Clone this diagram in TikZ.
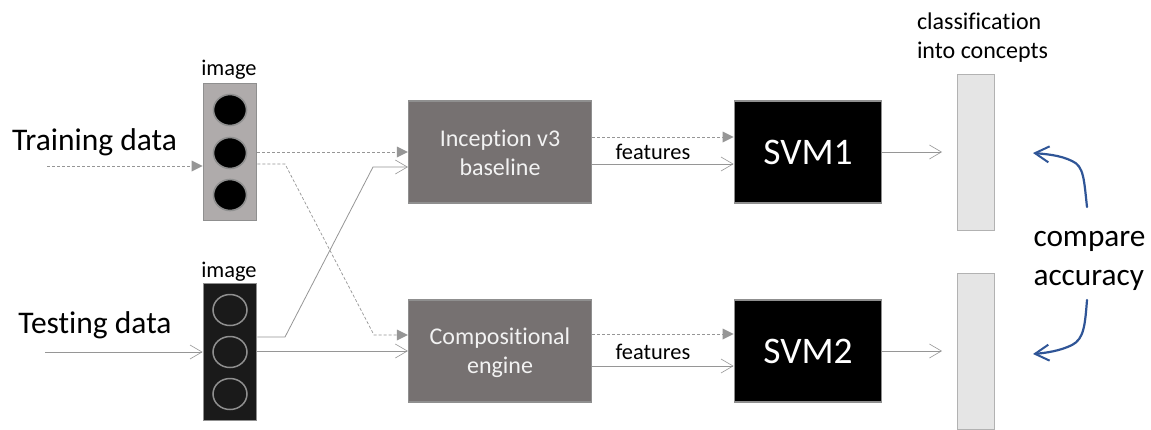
\documentclass[tikz,border=0pt]{standalone}
\usepackage{fontspec}
\setmainfont{Carlito}[RawFeature={-liga;-dlig;-clig}]
\usetikzlibrary{arrows.meta,calc,shapes.geometric}
\definecolor{cline}{HTML}{969696}
\definecolor{cbox}{HTML}{767171}
\definecolor{cedge}{HTML}{8F8F8F}
\definecolor{cimg}{HTML}{AFABAB}
\definecolor{cdark}{HTML}{1A1A1A}
\definecolor{cgrey}{HTML}{E5E5E5}
\definecolor{cblue}{HTML}{2F5597}
\tikzset{
  x=1pt,y=-1pt,
  lbl/.style={inner sep=0pt,text=black,align=left},
  stack/.style={draw=cedge,line width=1.8pt,minimum width=53pt,minimum height=137pt,inner sep=0pt},
  engine/.style={draw=cedge,line width=1.2pt,fill=cbox,minimum width=183pt,minimum height=102pt,inner sep=0pt},
  etext/.style={inner sep=0pt,text=white!95!black,font=\fontsize{24}{28.5}\selectfont,align=center},
  svm/.style={draw=cedge,line width=1.8pt,fill=black,minimum width=147pt,minimum height=102pt,inner sep=0pt,text=white,font=\fontsize{37.5}{40}\selectfont},
  outbar/.style={draw=black!30,line width=0.7pt,fill=cgrey,minimum width=37pt,minimum height=156pt,inner sep=0pt},
  dotA/.style={ellipse,fill=black,draw=cedge,line width=1.6pt,minimum width=33pt,minimum height=31pt,inner sep=0pt},
  dotB/.style={ellipse,draw=cedge,line width=1.5pt,minimum width=34pt,minimum height=31pt,inner sep=0pt},
  dashline/.style={draw=cline,line width=0.7pt,dash pattern=on 3pt off 2pt,-{Triangle[length=11pt,width=11pt,fill=cline,color=cline,line width=0pt]}},
  plainline/.style={draw=cline,line width=0.8pt,-{Straight Barb[length=12pt,width=14pt,line width=0.6pt]}},
  cmp/.style={draw=cblue,line width=2.2pt,line cap=round,-{Straight Barb[length=14pt,width=16pt,line width=2pt]}},
}
\begin{document}
\begin{tikzpicture}
\useasboundingbox[fill=white] (0,0) rectangle (1151,429);
% images
\node[stack,fill=cimg] (imgA) at (230,152) {};
\node[stack,fill=cdark] (imgB) at (230,352) {};
\node[dotA] (a1) at (230,110) {};
\node[dotA] (a2) at (230,153) {};
\node[dotA] (a3) at (230,195) {};
\node[dotB] (b1) at (230,310) {};
\node[dotB] (b2) at (230,352) {};
\node[dotB] (b3) at (230,394) {};
% engines
\node[engine] (inc) at (500,152) {};
\node[engine] (com) at (500,351) {};
\node[etext] (inct) at (500,153) {Inception v3\\baseline};
\node[etext] (comt) at (500,352.5) {Compositional\\engine};
\node[svm] (s1) at (808,152) {SVM1};
\node[svm] (s2) at (808,351) {SVM2};
\node[outbar] (o1) at (975.5,152) {};
\node[outbar,anchor=north] (o2) at (975.5,273) {};
% labels
\node[lbl,font=\fontsize{31.5}{34}\selectfont] (tr) at (94.5,142.5) {Training data};
\node[lbl,font=\fontsize{31.5}{34}\selectfont] (te) at (95,325) {Testing data};
\node[lbl,font=\fontsize{22.4}{26}\selectfont] (i1) at (229,70) {image};
\node[lbl,font=\fontsize{22.4}{26}\selectfont] (i2) at (229,272) {image};
\node[lbl,font=\fontsize{22.4}{26}\selectfont] (f1) at (653,152) {features};
\node[lbl,font=\fontsize{22.4}{26}\selectfont] (f2) at (653,352) {features};
\node[lbl,font=\fontsize{24}{29}\selectfont] (cl) at (982.5,38) {classification\\into concepts};
\node[lbl,font=\fontsize{31.3}{39}\selectfont] (ca) at (1089.5,261) {compare\\accuracy};
% free ends
\coordinate (trs) at (47,166);
\coordinate (tes) at (45,352);
% connectors
\draw[dashline] (trs) -- (imgA.west|-trs);
\draw[plainline] (tes) -- (imgB.west|-tes);
\draw[dashline] (imgA.east|-0,152) -- (inc.west|-0,152);
\draw[dashline] (imgA.east|-0,164) -- (285,164) -- (374,335) -- (com.west|-0,335);
\draw[plainline] (imgB.east|-0,337) -- (285,337) -- (373,167) -- (inc.west|-0,167);
\draw[plainline] (imgB.east|-0,351) -- (com.west|-0,351);
\draw[dashline] (inc.east|-0,137) -- (s1.west|-0,137);
\draw[plainline] (inc.east|-0,164) -- (s1.west|-0,164);
\draw[dashline] (com.east|-0,334) -- (s2.west|-0,334);
\draw[plainline] (com.east|-0,366) -- (s2.west|-0,366);
\draw[plainline] (s1.east|-0,152) -- (942,152);
\draw[plainline] (s2.east|-0,351) -- (942,351);
% compare curves
\coordinate (c1) at (1087,207);
\coordinate (c2) at (1087,300);
\draw[cmp] (c1) .. controls (1084,180) and (1084,166) .. (1072,161) .. controls (1060,155) and (1045,154) .. (1033,153);
\draw[cmp] (c2) .. controls (1085,325) and (1084,339) .. (1072,345) .. controls (1060,351) and (1045,353) .. (1033,354);
\end{tikzpicture}
\end{document}
